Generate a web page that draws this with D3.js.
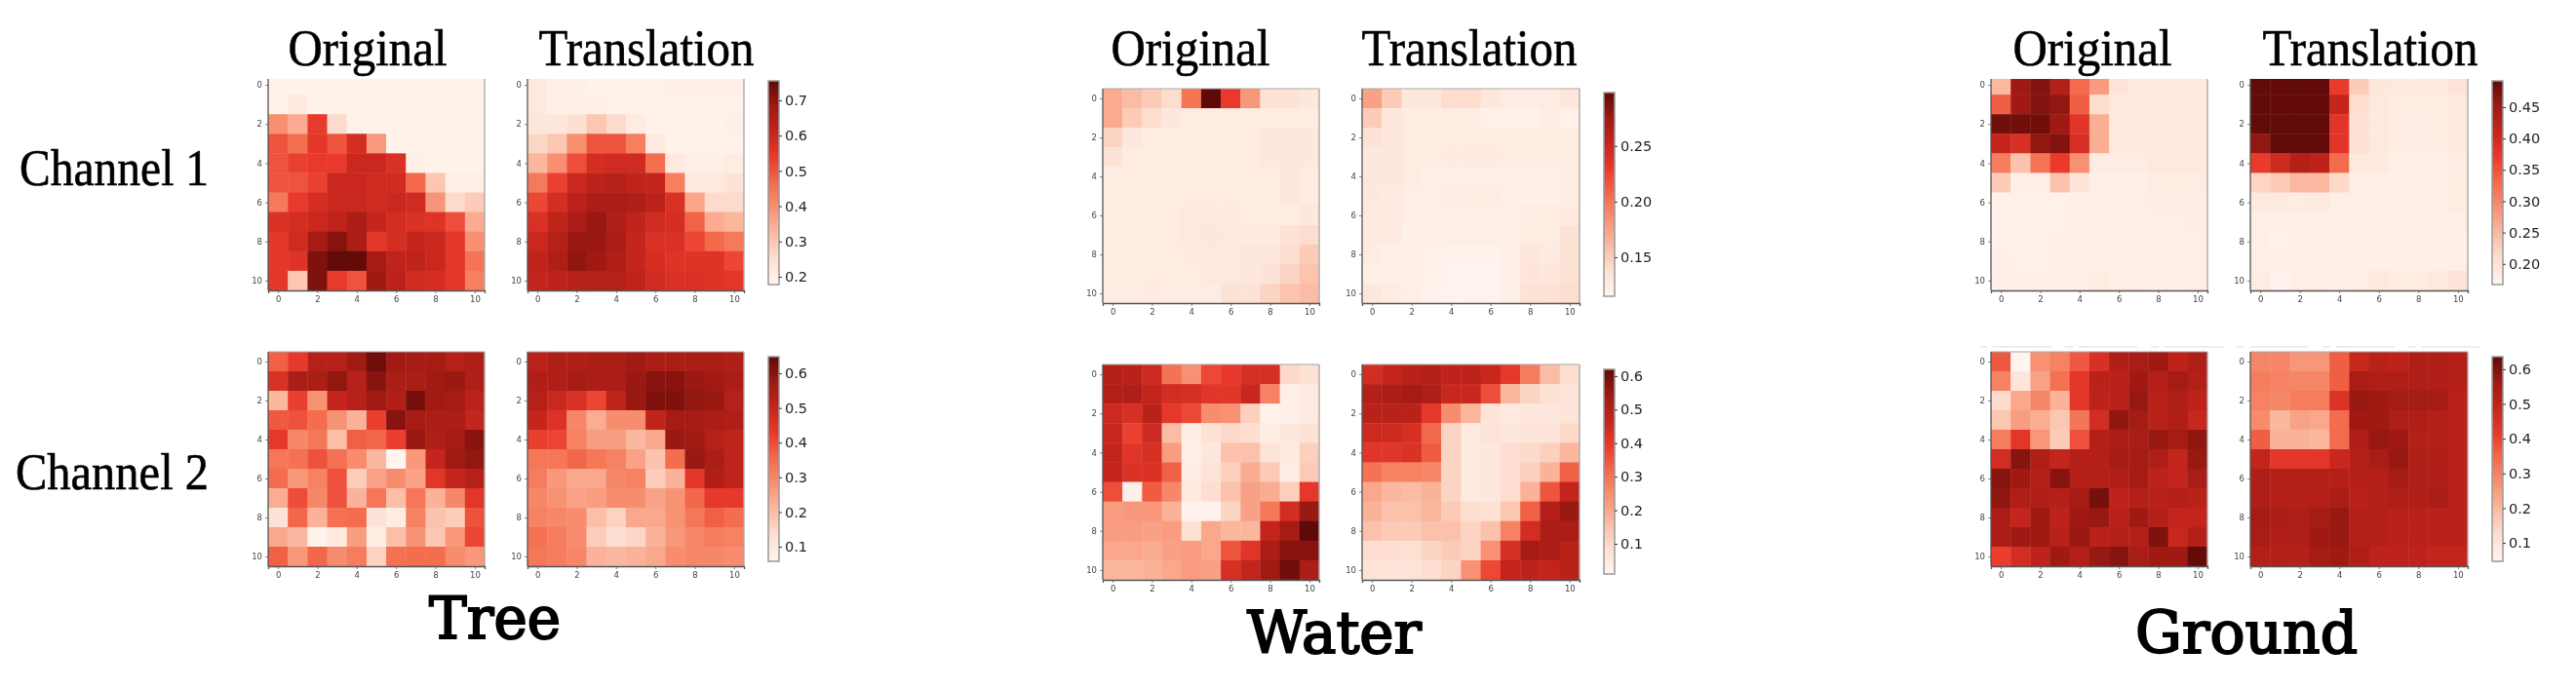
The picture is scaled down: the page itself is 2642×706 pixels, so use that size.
<!DOCTYPE html>
<html>
<head>
<meta charset="utf-8">
<script src="https://cdn.jsdelivr.net/npm/d3@7"></script>
<style>
  html, body { margin: 0; padding: 0; background: #fff; }
  svg { display: block; filter: blur(0.75px); }
</style>
</head>
<body>
<div id="chart"></div>
<script>
// Values, row by row (row 0 on top)
const treeCh1Original = [
  [.19,.19,.19,.19,.19,.19,.19,.19,.19,.19,.19],
  [.19,.22,.19,.19,.19,.19,.19,.19,.19,.19,.19],
  [.40,.35,.54,.26,.19,.19,.19,.19,.19,.19,.19],
  [.50,.46,.55,.50,.58,.38,.19,.19,.19,.19,.19],
  [.50,.53,.54,.54,.60,.60,.57,.20,.19,.19,.19],
  [.50,.50,.53,.60,.60,.59,.59,.47,.30,.20,.20],
  [.44,.54,.58,.60,.60,.59,.60,.59,.39,.26,.29],
  [.57,.58,.60,.62,.66,.61,.58,.57,.56,.51,.35],
  [.55,.59,.67,.71,.66,.55,.58,.61,.60,.55,.40],
  [.55,.56,.72,.75,.75,.67,.62,.62,.60,.55,.45],
  [.55,.30,.72,.54,.50,.68,.63,.59,.58,.55,.43]
];
const treeCh1Translation = [
  [.22,.20,.20,.19,.19,.19,.19,.20,.20,.20,.20],
  [.22,.20,.20,.20,.19,.19,.19,.19,.19,.19,.19],
  [.23,.23,.25,.30,.26,.21,.19,.19,.19,.19,.20],
  [.27,.30,.40,.50,.50,.43,.22,.19,.19,.19,.19],
  [.33,.40,.51,.58,.59,.59,.46,.22,.20,.20,.21],
  [.44,.53,.60,.63,.64,.62,.61,.43,.22,.22,.24],
  [.52,.58,.63,.66,.66,.65,.63,.57,.36,.26,.26],
  [.57,.62,.66,.69,.65,.62,.59,.58,.48,.35,.33],
  [.60,.64,.69,.69,.66,.61,.57,.57,.52,.47,.44],
  [.62,.65,.70,.68,.65,.61,.58,.56,.56,.56,.52],
  [.61,.63,.64,.64,.64,.62,.59,.57,.57,.56,.55]
];
const treeCh2Original = [
  [.37,.43,.53,.53,.57,.63,.57,.56,.56,.53,.54],
  [.46,.55,.55,.59,.53,.60,.55,.55,.57,.58,.54],
  [.21,.42,.28,.50,.53,.57,.54,.62,.57,.56,.52],
  [.38,.39,.35,.28,.22,.42,.60,.56,.55,.55,.50],
  [.43,.30,.33,.20,.37,.36,.42,.58,.54,.56,.60],
  [.33,.34,.39,.34,.29,.21,.06,.27,.50,.57,.59],
  [.35,.27,.31,.39,.17,.25,.29,.25,.44,.50,.53],
  [.23,.40,.30,.39,.22,.33,.20,.33,.22,.30,.44],
  [.12,.36,.22,.34,.35,.12,.09,.31,.19,.17,.39],
  [.24,.21,.07,.10,.26,.09,.20,.28,.18,.27,.41],
  [.37,.27,.36,.29,.32,.16,.34,.35,.35,.29,.27]
];
const treeCh2Translation = [
  [.52,.54,.54,.55,.55,.57,.55,.55,.55,.55,.54],
  [.54,.54,.56,.55,.55,.58,.60,.60,.58,.57,.55],
  [.53,.49,.46,.41,.51,.58,.61,.61,.59,.58,.53],
  [.50,.45,.30,.23,.29,.29,.51,.56,.56,.55,.54],
  [.42,.41,.31,.26,.26,.21,.24,.58,.57,.53,.51],
  [.33,.33,.36,.33,.31,.25,.19,.35,.58,.55,.51],
  [.32,.27,.24,.24,.30,.31,.17,.22,.44,.54,.51],
  [.30,.28,.25,.26,.29,.29,.25,.28,.36,.43,.43],
  [.31,.30,.29,.20,.16,.24,.24,.28,.33,.37,.35],
  [.34,.32,.29,.17,.13,.15,.22,.27,.30,.32,.31],
  [.33,.32,.30,.22,.21,.22,.24,.29,.30,.30,.29]
];
const waterCh1Original = [
  [.17,.16,.15,.14,.20,.298,.23,.18,.135,.135,.13],
  [.17,.15,.14,.13,.125,.125,.125,.125,.125,.125,.125],
  [.145,.13,.125,.125,.125,.125,.125,.125,.13,.13,.13],
  [.135,.125,.125,.125,.125,.125,.125,.125,.13,.13,.13],
  [.125,.125,.125,.125,.125,.125,.125,.125,.125,.13,.125],
  [.125,.125,.125,.125,.125,.125,.125,.125,.125,.13,.125],
  [.125,.125,.125,.125,.128,.128,.128,.125,.125,.125,.13],
  [.125,.125,.125,.125,.128,.13,.128,.127,.127,.135,.14],
  [.125,.125,.125,.125,.127,.128,.128,.13,.13,.14,.15],
  [.125,.125,.125,.125,.125,.128,.128,.13,.135,.145,.155],
  [.125,.125,.127,.125,.125,.125,.135,.135,.145,.155,.16]
];
const waterCh1Translation = [
  [.175,.15,.13,.13,.14,.14,.13,.125,.125,.125,.13],
  [.15,.13,.125,.125,.125,.125,.12,.12,.12,.125,.12],
  [.135,.13,.125,.125,.125,.125,.125,.125,.125,.125,.125],
  [.13,.13,.125,.125,.127,.127,.127,.125,.125,.125,.125],
  [.13,.13,.125,.123,.123,.123,.123,.123,.122,.122,.125],
  [.13,.127,.123,.123,.125,.125,.125,.123,.122,.122,.125],
  [.127,.127,.123,.123,.123,.123,.123,.123,.125,.125,.127],
  [.127,.127,.122,.122,.122,.122,.122,.122,.125,.125,.135],
  [.125,.122,.122,.12,.119,.119,.119,.122,.13,.127,.135],
  [.122,.122,.122,.12,.117,.117,.117,.122,.132,.13,.135],
  [.13,.125,.123,.119,.117,.117,.117,.122,.135,.137,.14]
];
const waterCh2Original = [
  [.50,.49,.45,.30,.24,.37,.40,.43,.43,.10,.08],
  [.50,.51,.47,.44,.43,.41,.41,.46,.27,.03,.05],
  [.45,.43,.49,.40,.37,.25,.24,.12,.02,.03,.05],
  [.46,.38,.45,.16,.04,.08,.10,.09,.04,.06,.08],
  [.47,.41,.43,.22,.03,.06,.15,.15,.07,.05,.12],
  [.47,.42,.42,.33,.04,.07,.12,.19,.13,.04,.13],
  [.36,.03,.34,.26,.05,.09,.15,.21,.19,.12,.40],
  [.22,.23,.23,.18,.02,.02,.11,.21,.29,.44,.55],
  [.22,.22,.21,.22,.08,.20,.17,.17,.47,.53,.62],
  [.20,.20,.19,.21,.22,.20,.35,.41,.52,.57,.57],
  [.17,.17,.18,.20,.22,.21,.43,.47,.54,.60,.52]
];
const waterCh2Translation = [
  [.44,.47,.49,.50,.48,.48,.46,.40,.28,.16,.09],
  [.50,.52,.53,.51,.46,.46,.36,.17,.11,.08,.07],
  [.49,.49,.49,.40,.25,.17,.07,.05,.06,.06,.07],
  [.45,.45,.43,.32,.11,.05,.07,.06,.07,.07,.10],
  [.41,.41,.42,.34,.11,.05,.06,.09,.10,.12,.17],
  [.30,.27,.27,.26,.11,.05,.06,.09,.12,.18,.33],
  [.20,.17,.16,.18,.11,.05,.06,.09,.18,.35,.47],
  [.18,.15,.15,.17,.13,.09,.08,.14,.33,.50,.55],
  [.15,.13,.13,.15,.15,.11,.15,.27,.44,.52,.52],
  [.09,.09,.08,.11,.13,.11,.24,.43,.53,.52,.49],
  [.07,.07,.07,.09,.11,.24,.37,.47,.48,.47,.49]
];
const groundCh1Original = [
  [.25,.45,.47,.43,.33,.28,.20,.19,.19,.19,.19],
  [.34,.45,.47,.46,.34,.21,.19,.19,.19,.19,.19],
  [.48,.48,.48,.45,.38,.26,.19,.19,.19,.19,.19],
  [.41,.39,.46,.47,.39,.26,.19,.19,.19,.19,.19],
  [.31,.24,.32,.37,.29,.185,.185,.185,.19,.19,.19],
  [.23,.18,.18,.24,.20,.18,.18,.18,.185,.185,.185],
  [.175,.175,.175,.175,.178,.178,.18,.18,.182,.182,.182],
  [.175,.175,.175,.175,.178,.178,.178,.18,.18,.18,.182],
  [.175,.175,.175,.178,.178,.178,.178,.178,.178,.18,.18],
  [.178,.175,.175,.178,.178,.178,.178,.178,.18,.178,.18],
  [.178,.178,.178,.178,.178,.185,.18,.18,.178,.178,.18]
];
const groundCh1Translation = [
  [.49,.49,.49,.49,.37,.23,.195,.19,.19,.19,.20],
  [.49,.49,.49,.49,.41,.21,.19,.185,.185,.185,.19],
  [.49,.49,.49,.49,.38,.205,.19,.185,.185,.185,.19],
  [.46,.49,.49,.49,.38,.205,.19,.185,.185,.185,.19],
  [.37,.40,.43,.42,.33,.19,.19,.18,.18,.18,.185],
  [.22,.23,.25,.25,.215,.18,.18,.18,.18,.18,.185],
  [.19,.19,.185,.19,.18,.18,.18,.18,.18,.18,.185],
  [.18,.18,.18,.18,.18,.18,.18,.18,.18,.18,.18],
  [.18,.175,.18,.18,.18,.18,.178,.178,.178,.178,.178],
  [.18,.178,.178,.178,.178,.178,.178,.178,.178,.178,.178],
  [.185,.172,.18,.18,.178,.18,.19,.185,.185,.19,.20]
];
const groundCh2Original = [
  [.37,.05,.27,.30,.37,.45,.53,.54,.56,.50,.53],
  [.30,.10,.24,.33,.43,.51,.51,.56,.52,.55,.52],
  [.13,.23,.29,.21,.43,.50,.51,.57,.51,.53,.50],
  [.17,.25,.22,.17,.32,.46,.58,.55,.51,.53,.48],
  [.31,.43,.26,.16,.38,.52,.54,.54,.57,.55,.58],
  [.46,.59,.53,.49,.52,.52,.55,.55,.53,.49,.57],
  [.59,.56,.52,.59,.52,.52,.53,.55,.50,.49,.54],
  [.58,.53,.53,.52,.55,.61,.50,.52,.51,.52,.51],
  [.54,.49,.56,.50,.56,.57,.51,.56,.52,.49,.49],
  [.54,.56,.56,.51,.57,.51,.52,.52,.60,.48,.52],
  [.41,.46,.50,.56,.52,.57,.59,.54,.56,.56,.63]
];
const groundCh2Translation = [
  [.29,.29,.26,.26,.36,.48,.51,.50,.53,.53,.52],
  [.31,.30,.29,.29,.36,.54,.53,.53,.53,.53,.52],
  [.30,.29,.31,.31,.44,.57,.56,.55,.55,.55,.51],
  [.28,.20,.24,.23,.34,.56,.56,.53,.53,.52,.51],
  [.36,.21,.21,.20,.34,.53,.57,.56,.52,.52,.51],
  [.49,.43,.43,.43,.48,.52,.54,.57,.53,.53,.51],
  [.53,.52,.52,.52,.52,.52,.52,.55,.53,.53,.51],
  [.53,.52,.52,.52,.54,.51,.52,.53,.53,.54,.51],
  [.55,.54,.53,.55,.57,.52,.52,.51,.51,.51,.51],
  [.54,.53,.53,.56,.57,.52,.52,.51,.51,.51,.51],
  [.52,.52,.52,.55,.56,.53,.50,.50,.50,.49,.49]
];

// Colorbar ranges and tick labels
const treeCh1Range = [.178, .755];
const treeCh2Range = [.058, .648];
const waterCh1Range = [.115, .298];
const waterCh2Range = [.01, .62];
const groundCh1Range = [.167, .492];
const groundCh2Range = [.047, .636];
const treeCh1Ticks = [.2, .3, .4, .5, .6, .7];
const treeCh2Ticks = [.1, .2, .3, .4, .5, .6];
const waterCh1Ticks = [.15, .20, .25];
const waterCh2Ticks = [.1, .2, .3, .4, .5, .6];
const groundCh1Ticks = [.20, .25, .30, .35, .40, .45];
const groundCh2Ticks = [.1, .2, .3, .4, .5, .6];

const cellIndex = d3.range(11);
const axisTicks = [0, 2, 4, 6, 8, 10];
const columnTitles = ['Original', 'Translation'];
const rowTitles = ['Channel 1', 'Channel 2'];

// Reds, nudged toward the warmer brick tones of the figure
const redStops = ['#fff5f0', '#fde0d2', '#fbbba3', '#f89274', '#f36b4c', '#e93a2c', '#c4251c', '#9f1a13', '#5f0a08'];

const width = 2642, height = 706;
const SERIF = '"Liberation Serif", "Times New Roman", serif';
const SLAB = '"DejaVu Serif", serif';

const svg = d3.select('#chart').append('svg')
    .attr('width', width)
    .attr('height', height)
    .style('background', '#fff');

const defs = svg.append('defs');
let gradientCount = 0;

function colorScale(domain) {
    return d3.scaleLinear()
        .domain(redStops.map((s, i) => domain[0] + (domain[1] - domain[0]) * i / (redStops.length - 1)))
        .range(redStops);
}

function drawHeatmap(values, domain, box) {
    const color = colorScale(domain);
    const x = d3.scaleLinear().domain([-0.5, 10.5]).range([box.x0, box.x1]);
    const y = d3.scaleLinear().domain([-0.5, 10.5]).range([box.y0, box.y1]);
    const g = svg.append('g');

    // top of some panels is cut off in the source figure
    const clipId = `clip-${gradientCount}-${box.x0}`;
    defs.append('clipPath').attr('id', clipId).append('rect')
        .attr('x', box.x0).attr('y', box.clipTop)
        .attr('width', box.x1 - box.x0).attr('height', box.y1 - box.clipTop);

    g.append('g').attr('clip-path', `url(#${clipId})`)
        .selectAll('g').data(values).join('g')
        .selectAll('rect').data((row, r) => row.map((v, c) => ({ v, r, c }))).join('rect')
        .attr('x', d => x(d.c - 0.5))
        .attr('y', d => y(d.r - 0.5))
        .attr('width', d => x(d.c + 0.5) - x(d.c - 0.5) + 0.4)
        .attr('height', d => y(d.r + 0.5) - y(d.r - 0.5) + 0.4)
        .attr('fill', d => color(d.v));

    // spines: left and bottom read darker than top and right
    if (box.clipTop <= box.y0) {
        g.append('line').attr('x1', box.x0).attr('x2', box.x1).attr('y1', box.y0).attr('y2', box.y0)
            .attr('stroke', '#aaa').attr('stroke-width', 1.2);
    }
    g.append('line').attr('x1', box.x1).attr('x2', box.x1).attr('y1', box.clipTop).attr('y2', box.y1)
        .attr('stroke', '#aaa').attr('stroke-width', 1.4);

    const xAxis = g.append('g').attr('transform', `translate(0,${box.y1})`)
        .call(d3.axisBottom(x).tickValues(axisTicks).tickSize(3).tickPadding(3));
    const yAxis = g.append('g').attr('transform', `translate(${box.x0},0)`)
        .call(d3.axisLeft(y).tickValues(axisTicks).tickSize(3).tickPadding(3));
    [xAxis, yAxis].forEach(a => {
        a.selectAll('.domain').attr('stroke', '#555').attr('stroke-width', 1.3);
        a.selectAll('.tick line').attr('stroke', '#555').attr('stroke-width', 0.7);
        a.selectAll('text').attr('fill', '#444').style('font-family', 'DejaVu Sans').style('font-size', '8.5px');
    });
    yAxis.select('.domain').attr('d', `M0,${box.clipTop}V${box.y1}`);
}

function drawColorbar(domain, ticks, bar) {
    const y = d3.scaleLinear().domain(domain).range([bar.y1, bar.y0]);
    const id = `bar-${gradientCount++}`;
    defs.append('linearGradient').attr('id', id)
        .attr('x1', 0).attr('x2', 0).attr('y1', 1).attr('y2', 0)
        .selectAll('stop').data(redStops).join('stop')
        .attr('offset', (d, i) => i / (redStops.length - 1))
        .attr('stop-color', d => d);

    const g = svg.append('g');
    g.append('rect')
        .attr('x', bar.x0).attr('y', bar.y0)
        .attr('width', bar.x1 - bar.x0).attr('height', bar.y1 - bar.y0)
        .attr('fill', `url(#${id})`)
        .attr('stroke', '#999').attr('stroke-width', 1.5);
    const axis = g.append('g').attr('transform', `translate(${bar.x1},0)`)
        .call(d3.axisRight(y).tickValues(ticks).tickSize(3).tickPadding(3).tickFormat(bar.format));
    axis.select('.domain').remove();
    axis.selectAll('.tick line').attr('stroke', '#333');
    axis.selectAll('text').attr('fill', '#222').style('font-family', 'DejaVu Sans').style('font-size', '14.5px');
}

function title(text, x, y, size, anchor, family, len, weight) {
    const t = svg.append('text')
        .attr('x', x).attr('y', y)
        .attr('text-anchor', anchor)
        .style('font-family', family)
        .style('font-size', `${size}px`)
        .attr('fill', '#000')
        .attr('stroke', '#000')
        .attr('stroke-width', weight)
        .text(text);
    if (len) t.attr('textLength', len).attr('lengthAdjust', 'spacingAndGlyphs');
}

const fmt1 = d3.format('.1f');
const fmt2 = d3.format('.2f');

// Tree
drawHeatmap(treeCh1Original, treeCh1Range, { x0: 275, x1: 497, y0: 77, y1: 298, clipTop: 81 });
drawHeatmap(treeCh1Translation, treeCh1Range, { x0: 541, x1: 763, y0: 77, y1: 298, clipTop: 81 });
drawColorbar(treeCh1Range, treeCh1Ticks, { x0: 788, x1: 799, y0: 83, y1: 292, format: fmt1 });
drawHeatmap(treeCh2Original, treeCh2Range, { x0: 275, x1: 497, y0: 361, y1: 581, clipTop: 361 });
drawHeatmap(treeCh2Translation, treeCh2Range, { x0: 541, x1: 763, y0: 361, y1: 581, clipTop: 361 });
drawColorbar(treeCh2Range, treeCh2Ticks, { x0: 788, x1: 799, y0: 366, y1: 576, format: fmt1 });

// Water
drawHeatmap(waterCh1Original, waterCh1Range, { x0: 1131, x1: 1353, y0: 91, y1: 311, clipTop: 91 });
drawHeatmap(waterCh1Translation, waterCh1Range, { x0: 1397, x1: 1620, y0: 91, y1: 311, clipTop: 91 });
drawColorbar(waterCh1Range, waterCh1Ticks, { x0: 1645, x1: 1656, y0: 95, y1: 304, format: fmt2 });
drawHeatmap(waterCh2Original, waterCh2Range, { x0: 1131, x1: 1353, y0: 374, y1: 595, clipTop: 374 });
drawHeatmap(waterCh2Translation, waterCh2Range, { x0: 1397, x1: 1620, y0: 374, y1: 595, clipTop: 374 });
drawColorbar(waterCh2Range, waterCh2Ticks, { x0: 1645, x1: 1656, y0: 379, y1: 589, format: fmt1 });

// Ground
drawHeatmap(groundCh1Original, groundCh1Range, { x0: 2042, x1: 2264, y0: 77, y1: 298, clipTop: 81 });
drawHeatmap(groundCh1Translation, groundCh1Range, { x0: 2308, x1: 2531, y0: 77, y1: 298, clipTop: 81 });
drawColorbar(groundCh1Range, groundCh1Ticks, { x0: 2556, x1: 2567, y0: 83, y1: 292, format: fmt2 });
drawHeatmap(groundCh2Original, groundCh2Range, { x0: 2042, x1: 2264, y0: 361, y1: 581, clipTop: 361 });
drawHeatmap(groundCh2Translation, groundCh2Range, { x0: 2308, x1: 2531, y0: 361, y1: 581, clipTop: 361 });
drawColorbar(groundCh2Range, groundCh2Ticks, { x0: 2556, x1: 2567, y0: 366, y1: 576, format: fmt1 });

// column and row headings
[[377, 663], [1221, 1507], [2146, 2431]].forEach(centers => {
    centers.forEach((cx, i) => title(columnTitles[i], cx, 67, 52, 'middle', SERIF, i === 0 ? 163 : 221, 0.6));
});
title(rowTitles[0], 20, 190, 52, 'start', SERIF, 194, 0.6);
title(rowTitles[1], 16, 502, 52, 'start', SERIF, 198, 0.6);

title('Tree', 440, 655, 60, 'start', SLAB, 135, 2);
title('Water', 1279, 670, 60, 'start', SLAB, 179, 2);
title('Ground', 2190, 670, 60, 'start', SLAB, 228, 2);

// leftover dashes above the lower Ground panels
svg.append('line')
    .attr('x1', 2030).attr('x2', 2546).attr('y1', 356).attr('y2', 356)
    .attr('stroke', '#ddd').attr('stroke-width', 1)
    .attr('stroke-dasharray', '8 6 60 14');
</script>
</body>
</html>
